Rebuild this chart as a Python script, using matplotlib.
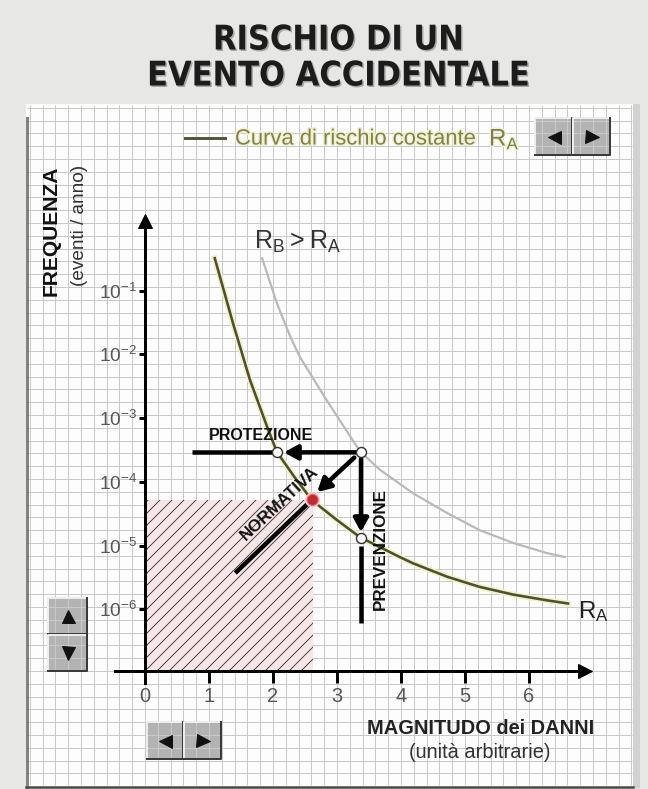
import matplotlib
matplotlib.use('Agg')
import numpy as np
import matplotlib.pyplot as plt
import matplotlib.patheffects as pe
from matplotlib.patches import Rectangle
from matplotlib.ticker import NullLocator

plt.rcParams['font.family'] = ['Liberation Sans', 'DejaVu Sans']
plt.rcParams['hatch.color'] = '#3a3a3a'
plt.rcParams['hatch.linewidth'] = 0.9

# --- dati ---
x_ticks = [0, 1, 2, 3, 4, 5, 6]
y_ticks = [1e-1, 1e-2, 1e-3, 1e-4, 1e-5, 1e-6]
y_labels = [r'$\mathregular{10^{-1}}$', r'$\mathregular{10^{-2}}$', r'$\mathregular{10^{-3}}$',
            r'$\mathregular{10^{-4}}$', r'$\mathregular{10^{-5}}$', r'$\mathregular{10^{-6}}$']

# curva di rischio costante R_A
ra_x = [1.09, 1.375, 1.64, 1.91, 2.06, 2.34, 2.61, 3.0, 3.36, 3.98, 4.19, 4.72, 5.23, 5.75, 6.28, 6.61]
ra_f = [3.24e-1, 3.09e-2, 3.98e-3, 7.24e-4, 2.95e-4, 1.17e-4, 5.13e-5, 2.51e-5, 1.35e-5,
        6.6e-6, 5.25e-6, 3.24e-6, 2.24e-6, 1.70e-6, 1.38e-6, 1.23e-6]

# curva R_B > R_A
rb_x = [1.83, 2.06, 2.27, 2.42, 2.84, 3.36, 3.67, 4.19, 4.72, 5.23, 5.75, 6.28, 6.56]
rb_f = [3.24e-1, 6.4e-2, 1.9e-2, 9.1e-3, 1.9e-3, 3.0e-4, 1.55e-4, 6.6e-5, 3.24e-5,
        1.74e-5, 1.10e-5, 7.6e-6, 6.6e-6]

start_pt = (3.375, 2.9e-4)   # punto iniziale su R_B
prot_pt = (2.06, 2.9e-4)     # dopo protezione
prev_pt = (3.375, 1.33e-5)   # dopo prevenzione
norm_pt = (2.62, 5.2e-5)     # limite normativo

# --- figura ---
W, H, DPI = 648, 789, 72
fig = plt.figure(figsize=(W / DPI, H / DPI), dpi=DPI, facecolor='#e7e7e5')

bg = fig.add_axes([0, 0, 1, 1])
bg.set_xlim(0, W)
bg.set_ylim(H, 0)
bg.axis('off')

# foglio a quadretti
bg.add_patch(Rectangle((26, 104), 607, 683, facecolor='#fdfdfd', edgecolor='none'))
xs = 145 + 12.8 * np.arange(-9, 39)
ys = 671 - 12.8 * np.arange(-8, 45)
bg.vlines(xs[(xs > 27) & (xs < 632)], 105, 785, color='#c9c9c9', lw=1)
bg.hlines(ys[(ys > 105) & (ys < 786)], 27, 632, color='#c9c9c9', lw=1)
bg.plot([26.5, 26.5], [118, 787], color='#5a5a5a', lw=3, alpha=0.75)
bg.plot([26, 633], [786.5, 786.5], color='#4a4a4a', lw=2.5)
bg.add_patch(Rectangle((633, 104), 7, 684, facecolor='#d2d2d2', edgecolor='none'))

# titolo
for txt, yy in [('RISCHIO DI UN', 40), ('EVENTO ACCIDENTALE', 76)]:
    bg.text(338, yy, txt, ha='center', va='center', fontsize=34, fontweight='bold',
            family='DejaVu Sans', fontstretch='condensed', color='#1c1c1c',
            path_effects=[pe.withSimplePatchShadow(offset=(1.5, -1.5), shadow_rgbFace='#666', alpha=0.5)])

# legenda
bg.plot([185, 225], [138, 138], color='#55573d', lw=3)
halo = [pe.withStroke(linewidth=3, foreground='#f2f2cc')]
bg.text(235, 139, 'Curva di rischio costante', ha='left', va='center', fontsize=22,
        color='#808050', path_effects=halo)
bg.text(489, 139, r'$\mathregular{R_A}$', ha='left', va='center', fontsize=24,
        color='#7d7d55', path_effects=halo)


def button(x0, y0, w, h, direction):
    bg.add_patch(Rectangle((x0, y0), w, h, facecolor='#b3b3b3', edgecolor='none'))
    bg.plot([x0, x0, x0 + w], [y0 + h, y0, y0], color='#ededed', lw=2)
    bg.plot([x0, x0 + w, x0 + w], [y0 + h, y0 + h, y0], color='#3a3a3a', lw=2)
    bg.plot(x0 + w / 2, y0 + h / 2, marker=direction, ms=13, color='#111111')


button(535, 118, 37, 37, '<')
button(573, 118, 37, 37, '>')
button(48, 598, 39, 36, '^')
button(48, 635, 39, 36, 'v')
button(147, 722, 36, 37, '<')
button(184, 722, 37, 37, '>')

# etichette assi
bg.text(51, 231, 'FREQUENZA', rotation=90, ha='center', va='center', fontsize=21,
        fontweight='bold', color='#111111')
bg.text(79, 225, '(eventi / anno)', rotation=90, ha='center', va='center', fontsize=19,
        color='#333333')
bg.text(481, 728, 'MAGNITUDO dei DANNI', ha='center', va='center', fontsize=20,
        fontweight='bold', color='#222222')
bg.text(480, 753, '(unità arbitrarie)', ha='center', va='center', fontsize=20, color='#333333')

bg.text(297, 242, r'$\mathregular{R_B > R_A}$', ha='center', va='center', fontsize=25, color='#333333')
bg.text(578, 612, r'$\mathregular{R_A}$', ha='left', va='center', fontsize=24, color='#222222')

# --- assi dati (x lineare, y logaritmica) ---
ax = fig.add_axes([100 / W, (H - 700) / H, 520 / W, 500 / H])
ax.set_facecolor('none')
ax.set_yscale('log')
ax.set_xlim(-0.703, 7.422)
ax.set_ylim(10 ** -7.425, 10 ** 0.424)
x_axis_y = 10 ** -6.97

for s in ['top', 'right']:
    ax.spines[s].set_visible(False)
ax.spines['left'].set_position(('data', 0))
ax.spines['left'].set_bounds(10 ** -7.16, 10 ** 0.02)
ax.spines['bottom'].set_position(('data', x_axis_y))
ax.spines['bottom'].set_bounds(-0.47, 6.85)
for s in ['left', 'bottom']:
    ax.spines[s].set_linewidth(3)
ax.plot([0], [10 ** 0.1], marker='^', ms=14, color='k', clip_on=False)
ax.plot([6.87], [x_axis_y], marker='>', ms=14, color='k', clip_on=False)

ax.set_xticks(x_ticks)
ax.set_yticks(y_ticks, labels=y_labels)
ax.yaxis.set_minor_locator(NullLocator())
ax.tick_params(axis='x', direction='out', length=12, width=3, pad=4, labelsize=20, labelcolor='#555555')
ax.tick_params(axis='y', direction='out', length=6, width=3, pad=2, labelsize=19, labelcolor='#555555')

# zona accettabile (tratteggiata)
ax.add_patch(Rectangle((0.03, x_axis_y), norm_pt[0] - 0.03, norm_pt[1] - x_axis_y,
                       facecolor='#f6e6e8', edgecolor='#3a3a3a', hatch='//', lw=0, zorder=1))

# curve di rischio
ax.plot(rb_x, rb_f, color='#b9b9b9', lw=2.2, zorder=2)
ax.plot(ra_x, ra_f, color='#4d5033', lw=2.6, zorder=3,
        path_effects=[pe.Stroke(linewidth=6, foreground='#f2f2c6'), pe.Normal()])

# frecce
arr = dict(arrowstyle='-|>,head_length=0.55,head_width=0.3', lw=4.5, color='k',
           mutation_scale=20, shrinkA=0, shrinkB=0)
ax.plot([0.73, prot_pt[0]], [start_pt[1], start_pt[1]], color='k', lw=4.5, solid_capstyle='butt', zorder=4)
ax.annotate('', xy=(2.17, start_pt[1]), xytext=(3.30, start_pt[1]), arrowprops=arr, zorder=4)
ax.annotate('', xy=(2.69, 6.9e-5), xytext=(3.27, 2.4e-4), arrowprops=arr, zorder=4)
ax.plot([2.53, 1.41], [4.4e-5, 3.7e-6], color='k', lw=4.5, solid_capstyle='butt', zorder=4)
ax.annotate('', xy=(start_pt[0], 1.62e-5), xytext=(start_pt[0], 2.3e-4), arrowprops=arr, zorder=4)
ax.plot([start_pt[0], start_pt[0]], [9.8e-6, 6.0e-7], color='k', lw=4.5, solid_capstyle='butt', zorder=4)

# punti
for p in [start_pt, prot_pt, prev_pt]:
    ax.plot(p[0], p[1], 'o', ms=10, mfc='white', mec='#333333', mew=1.4, zorder=6)
ax.plot(norm_pt[0], norm_pt[1], 'o', ms=11, mfc='#c32a2f', mec='#d86a70', mew=1, zorder=6,
        path_effects=[pe.Stroke(linewidth=4, foreground='#f4c9cb'), pe.Normal()])

# scritte sopra le frecce
fig.text(261, 435, 'PROTEZIONE', ha='center', va='center', fontsize=16, fontweight='bold',
         color='#111111', transform=bg.transData)
fig.text(380, 549, 'PREVENZIONE', rotation=90, ha='center', va='center', fontsize=17,
         fontweight='bold', color='#111111', transform=bg.transData)
fig.text(280, 503, 'NORMATIVA', rotation=43, ha='center', va='center', fontsize=17,
         fontweight='bold', color='#111111', rotation_mode='anchor', transform=bg.transData)

fig.savefig('out.png', dpi=DPI, facecolor=fig.get_facecolor())
